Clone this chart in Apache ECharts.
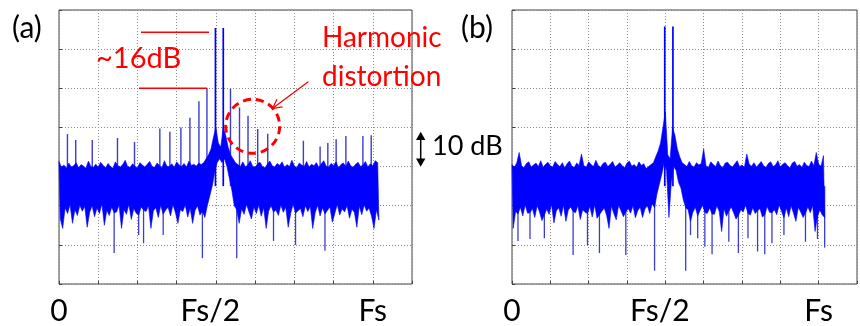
<!DOCTYPE html>
<html><head><meta charset="utf-8">
<script src="https://cdn.jsdelivr.net/npm/echarts@6/dist/echarts.min.js"></script>
<style>html,body{margin:0;padding:0;background:#fff;}#c{width:860px;height:326px;}</style>
</head><body><div id="c"></div>
<script>
// x in grid units: 0 -> 0, 4 -> Fs/2, 8 -> Fs ; y in dB (10 dB per grid line)
const tickValues = [0, 4, 8];
const tickNames = ['0', 'Fs/2', 'Fs'];
const binStep = 0.0625;

// ---------- panel (a) ----------
// noise floor envelope, upper / lower level per frequency bin
const aHi = [31.3,29.8,30.4,29.6,30.9,29.9,30.2,31.0,29.7,30.5,
30.1,29.6,31.4,30.0,29.8,30.6,29.9,31.1,30.3,29.7,
30.8,30.0,29.6,31.2,30.2,29.9,30.5,31.6,30.0,29.8,
30.7,30.1,29.7,31.0,30.4,29.9,30.6,31.3,30.0,29.8,
30.9,30.3,29.7,31.5,30.1,30.0,30.7,29.8,31.2,30.4,
30.0,30.8,29.9,31.4,30.3,30.6,30.1,30.9,30.5,31.0,
32.0,33.0,34.5,37.5,40.0,36.0,35.0,40.0,38.0,35.0,
33.0,32.0,31.0,30.5,30.0,31.2,29.9,30.4,31.5,30.1,
29.8,30.7,31.1,30.0,29.7,30.6,31.4,30.2,29.9,30.8,
30.3,31.2,29.8,30.5,30.0,31.6,30.2,29.7,30.9,30.4,
30.0,31.3,29.9,30.6,30.2,31.0,29.8,30.7,31.5,30.1,
29.9,30.8,30.3,31.2,29.7,30.5,30.9,30.0,31.4,30.2,
29.8,30.6,31.1,30.0,30.4,31.3,29.9,30.7,30.2,31.5,
31.0];
const aLo = [16.7,14.2,19.5,18.0,20.3,15.5,19.0,17.5,20.1,18.6,
19.8,14.5,18.3,20.0,17.2,19.4,18.0,20.5,15.0,18.8,
17.5,19.6,18.2,18.4,20.2,14.2,19.0,17.8,20.4,16.5,
19.3,18.1,17.6,19.7,18.9,18.5,20.0,14.2,18.7,19.5,
17.0,20.1,17.8,18.9,19.6,17.4,20.3,18.2,15.5,19.0,
18.5,20.2,17.1,19.4,15.5,18.8,20.0,17.6,18.6,17.0,
20.0,22.5,25.0,28.5,31.0,32.0,31.0,32.0,30.0,27.0,
24.0,20.0,19.0,15.5,19.2,17.8,20.3,18.4,16.6,19.7,
18.0,20.1,17.3,19.5,14.2,18.6,20.0,18.4,18.9,17.5,
20.2,18.3,19.6,14.5,18.0,20.4,18.1,18.7,19.3,17.2,
20.0,18.5,19.8,14.2,18.2,20.1,17.4,19.5,17.9,18.8,
19.7,15.8,18.0,20.3,17.6,19.2,18.4,20.0,16.8,19.1,
18.3,14.5,19.9,17.7,20.2,18.6,19.4,17.3,14.2,19.0,
16.3];
// carrier peaks
const aPeakF = [3.989, 4.188];
const aPeakV = [65.4, 65.4];
// harmonic spurs
const aSpurF = [0.215,0.426,0.848,1.491,1.925,2.571,2.827,3.108,3.338,3.568,3.772,4.372,4.602,4.819,5.066,5.322,6.231,6.657,6.854,7.066,7.314,7.748,7.960];
const aSpurV = [38.3,36.8,36.8,37.3,36.3,39.7,38.9,40.0,42.5,46.7,50.1,49.9,45.1,43.0,39.6,38.4,36.6,35.1,36.0,37.0,37.8,37.8,38.0];
// deep downward noise spikes
const aDipF = [1.406,2.031,2.156,2.656,3.656,4.531,5.469,6.031,6.781];
const aDipV = [7.9,12.5,10.4,12.5,6.6,6.6,11.0,10.0,8.5];

// ---------- panel (b) ----------
const bHi = [30.5,29.8,31.0,33.6,30.2,29.7,30.8,31.2,29.9,30.4,
30.9,30.0,31.5,29.8,30.6,31.1,30.2,29.9,31.3,30.5,
30.0,31.0,29.7,30.7,31.4,30.1,29.8,30.9,30.3,33.2,
30.2,29.9,31.2,30.5,30.0,31.6,30.3,29.8,30.8,31.1,
30.0,30.6,31.3,29.9,30.4,31.0,30.2,29.7,30.9,31.4,
30.1,30.5,29.8,31.2,30.3,30.7,29.5,30.0,30.5,31.0,
32.5,34.0,36.0,40.0,44.0,33.0,32.0,40.0,38.0,34.5,
32.5,31.0,30.5,30.0,31.3,30.2,29.9,31.0,30.4,30.8,
34.5,30.1,29.8,31.2,30.5,30.0,31.4,30.2,29.7,30.9,
31.1,30.3,29.9,30.7,31.5,30.0,30.4,29.8,33.2,30.6,
30.1,31.0,29.9,30.5,31.3,30.2,29.8,30.8,31.2,30.0,
30.4,31.5,29.9,30.6,31.0,30.2,29.7,30.9,31.3,30.1,
30.5,29.8,31.1,30.3,30.0,31.4,30.2,33.6,30.6,30.1,
32.8];
const bLo = [14.2,18.5,17.9,19.6,17.4,20.2,18.1,18.2,19.3,17.0,
20.0,18.4,16.2,17.6,19.1,17.8,20.3,15.6,18.7,19.5,
17.3,20.1,16.0,18.9,19.7,18.5,18.2,20.0,16.5,19.0,
18.3,18.0,19.8,17.1,20.2,16.8,17.7,18.6,19.4,17.5,
14.2,19.9,18.0,16.4,20.1,18.7,17.2,18.4,19.3,18.1,
20.0,16.9,18.8,19.6,17.0,19.2,20.0,18.0,20.5,19.5,
23.0,25.5,28.0,31.0,29.0,17.0,26.0,30.0,29.0,26.0,
24.5,21.5,19.5,19.0,16.0,18.3,19.6,17.4,18.8,20.1,
18.3,18.0,19.4,17.9,17.8,20.0,18.5,13.4,19.2,17.3,
18.6,19.7,18.2,16.6,17.5,19.0,18.4,20.1,18.0,17.6,
19.5,18.0,18.7,19.3,17.1,17.6,19.8,18.3,18.2,19.0,
17.7,20.2,18.6,16.9,19.4,17.2,20.0,18.1,16.0,19.6,
18.4,17.0,18.1,19.7,18.2,20.0,13.4,17.3,18.9,17.6,
17.0];
const bPeakF = [3.985, 4.198];
const bPeakV = [65.8, 65.8];
const bSpurF = [];
const bSpurV = [];
const bDipF = [0.156,0.469,0.844,1.594,1.969,2.281,2.969,3.719,4.531,4.656,4.844,5.031,5.219,5.656,5.906,6.156,6.406,6.594,6.781,7.094,7.656,7.969,8.156];
const bDipV = [11.0,11.5,11.7,7.4,9.9,7.9,7.4,3.4,3.4,12.5,11.7,9.5,7.6,10.8,7.9,11.7,8.3,7.6,10.4,12.5,10.8,11.5,9.3];

const FONT = 'Lato, "Open Sans", sans-serif';
const BLUE = '#0000ff';
const SPIKE_BLUE = '#3c3cd0';
const SPIKE_BASE = 25;
const gridStyle = { show: true, lineStyle: { color: '#8a8a8a', type: [1, 2], width: 1 } };

function xAxisFor(gi) {
  return {
    type: 'value', gridIndex: gi, min: 0, max: 9, interval: 1,
    axisLine: { show: false },
    axisTick: { show: true, inside: true, length: 3, lineStyle: { color: '#444' } },
    splitLine: gridStyle,
    axisLabel: {
      margin: 12, color: '#000', fontSize: 30, fontFamily: FONT,
      formatter: v => {
        const k = tickValues.indexOf(v);
        if (k < 0) return '';
        return k === 1 ? '{s|' + tickNames[k] + '}' : tickNames[k];
      },
      rich: { s: { fontSize: 30, fontFamily: FONT, color: '#000', padding: [0, 11, 0, 0] } }
    }
  };
}
function yAxisFor(gi) {
  return {
    type: 'value', gridIndex: gi, min: 0, max: 70, interval: 10,
    axisLine: { show: false },
    axisTick: { show: true, inside: true, length: 3, lineStyle: { color: '#444' } },
    axisLabel: { show: false },
    splitLine: gridStyle
  };
}
// solid noise band between the upper and lower envelopes
function bandSeries(gi, hi, lo) {
  return {
    type: 'custom', xAxisIndex: gi, yAxisIndex: gi, data: [[0, SPIKE_BASE]], z: 3,
    renderItem: (params, api) => {
      const pts = [];
      for (let i = 0; i < hi.length; i++) pts.push(api.coord([i * binStep, hi[i]]));
      for (let i = lo.length - 1; i >= 0; i--) pts.push(api.coord([i * binStep + binStep / 2, lo[i]]));
      return { type: 'polygon', shape: { points: pts }, style: { fill: BLUE, stroke: BLUE, lineWidth: 0.6 } };
    }
  };
}
// vertical spikes (spurs, peaks, dips) leaving the band; drawn beneath the band
function spikeSeries(gi, fs, vs, width, color, z) {
  return {
    type: 'custom', xAxisIndex: gi, yAxisIndex: gi, z: z,
    data: fs.map((f, k) => [f, vs[k]]),
    renderItem: (params, api) => {
      const p0 = api.coord([api.value(0), SPIKE_BASE]);
      const p1 = api.coord([api.value(0), api.value(1)]);
      return { type: 'line', shape: { x1: p0[0], y1: p0[1], x2: p1[0], y2: p1[1] },
               style: { stroke: color, lineWidth: width } };
    }
  };
}

function txt(x, y, s, size, color) {
  return { type: 'text', x: x, y: y, z: 10,
    style: { text: s, font: size + 'px ' + FONT, fill: color, align: 'left', verticalAlign: 'middle',
             textAlign: 'left', textVerticalAlign: 'middle' } };
}
function ln(x1, y1, x2, y2, c, w) {
  return { type: 'line', z: 10, shape: { x1, y1, x2, y2 }, style: { stroke: c, lineWidth: w } };
}
const ax1 = 308.3, ay1 = 81.7, ax2 = 272.7, ay2 = 108.3;
const L = Math.hypot(ax2 - ax1, ay2 - ay1), ux = (ax1 - ax2) / L, uy = (ay1 - ay2) / L;
const ang = 28 * Math.PI / 180, hl = 10;
const h1 = [ax2 + hl * (ux * Math.cos(ang) - uy * Math.sin(ang)), ay2 + hl * (ux * Math.sin(ang) + uy * Math.cos(ang))];
const h2 = [ax2 + hl * (ux * Math.cos(-ang) - uy * Math.sin(-ang)), ay2 + hl * (ux * Math.sin(-ang) + uy * Math.cos(-ang))];

const chart = echarts.init(document.getElementById('c'), null, { renderer: 'canvas' });
chart.setOption({
  animation: false,
  backgroundColor: '#fff',
  grid: [
    { left: 59, top: 10, width: 353, height: 276, show: true, borderColor: '#444', borderWidth: 1, backgroundColor: '#fff' },
    { left: 512, top: 10, width: 354, height: 277, show: true, borderColor: '#444', borderWidth: 1, backgroundColor: '#fff' }
  ],
  xAxis: [xAxisFor(0), xAxisFor(1)],
  yAxis: [yAxisFor(0), yAxisFor(1)],
  series: [
    spikeSeries(0, aSpurF, aSpurV, 1.4, SPIKE_BLUE, 2),
    spikeSeries(0, aDipF, aDipV, 1.3, SPIKE_BLUE, 2),
    bandSeries(0, aHi, aLo),
    spikeSeries(0, aPeakF, aPeakV, 1.7, BLUE, 4),
    spikeSeries(1, bSpurF, bSpurV, 1.4, SPIKE_BLUE, 2),
    spikeSeries(1, bDipF, bDipV, 1.3, SPIKE_BLUE, 2),
    bandSeries(1, bHi, bLo),
    spikeSeries(1, bPeakF, bPeakV, 1.7, BLUE, 4)
  ],
  graphic: [
    txt(12, 28, '(a)', 30, '#000'),
    txt(461, 28, '(b)', 30, '#000'),
    txt(96, 58.5, '~16dB', 29, '#ff0000'),
    ln(141, 32.3, 209, 32.3, '#ff0000', 1.5),
    ln(139, 88.3, 207, 88.3, '#ff0000', 1.5),
    txt(322, 38, 'Harmonic', 28, '#ff0000'),
    txt(322, 76.5, 'distortion', 28, '#ff0000'),
    { type: 'circle', z: 10, shape: { cx: 252.7, cy: 126.3, r: 27 },
      style: { fill: 'transparent', stroke: '#ff0000', lineWidth: 3, lineDash: [8, 5] } },
    ln(ax1, ay1, ax2, ay2, '#ff0000', 1.3),
    { type: 'polyline', z: 10, shape: { points: [h1, [ax2, ay2], h2] }, style: { stroke: '#ff0000', lineWidth: 1.3, fill: null } },
    ln(420.7, 137, 420.7, 161, '#000', 1.5),
    { type: 'polygon', z: 10, shape: { points: [[420.7, 131.7], [416, 140], [425.4, 140]] }, style: { fill: '#000' } },
    { type: 'polygon', z: 10, shape: { points: [[420.7, 166.7], [416, 158.4], [425.4, 158.4]] }, style: { fill: '#000' } },
    txt(432, 146, '10 dB', 27, '#000')
  ]
});
</script>
</body></html>
